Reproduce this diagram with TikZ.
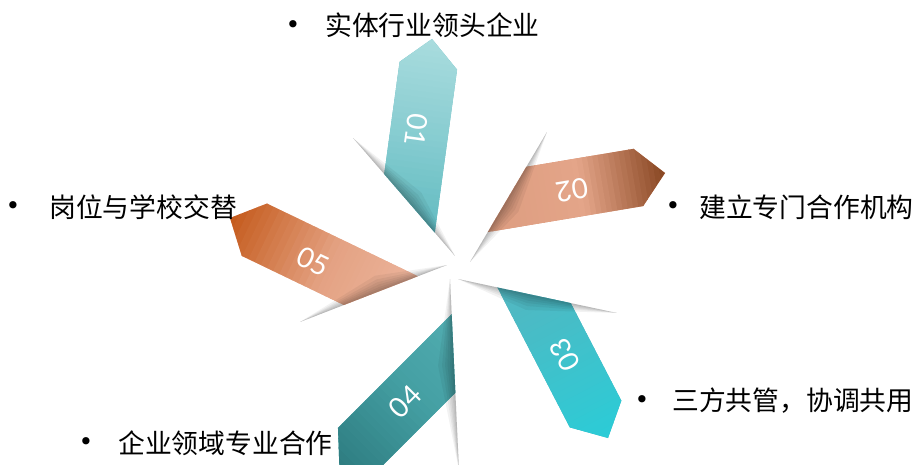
\documentclass[tikz,border=0pt]{standalone}
\usepackage{fontspec}
\usetikzlibrary{calc}
\newfontfamily\cjk{Noto Sans CJK SC}
\newfontfamily\numfont{Lato}
\newfontfamily\dejavu{DejaVu Sans}
\definecolor{aA}{HTML}{AADCDE}\definecolor{aB}{HTML}{88CDD1}\definecolor{aC}{HTML}{62BBC1}
\definecolor{bA}{HTML}{884622}\definecolor{bB}{HTML}{E4A589}\definecolor{bC}{HTML}{DD9D80}
\definecolor{cA}{HTML}{2BCCD7}\definecolor{cB}{HTML}{3EC2CC}\definecolor{cC}{HTML}{52B7C1}
\definecolor{dA}{HTML}{2E7C80}\definecolor{dB}{HTML}{449FA3}\definecolor{dC}{HTML}{56B1B5}
\definecolor{eA}{HTML}{C45A1B}\definecolor{eB}{HTML}{E4A283}\definecolor{eC}{HTML}{EBB39A}
% #1,#2 tip, #3 angle, #4 length, #5,#6 stops, #7-#9 colours
\newcommand\myribbon[9]{%
\begin{scope}[shift={(#1,#2)},rotate=#3]
  \clip (0,0) -- (27,29) -- (#4,29) -- (#4,-29) -- (27,-29) -- cycle;
  \fill[#9] (-2,-31) rectangle (#4+2,31);
  \foreach \k in {0,...,15}{%
    \pgfmathsetmacro\xa{#5*\k/16}%
    \pgfmathsetmacro\xb{#5*(\k+1)/16+0.7}%
    \pgfmathtruncatemacro\p{round(100*(\k+0.5)/16)}%
    \fill[#8!\p!#7] (\xa,-31) rectangle (\xb,31);}
  \foreach \k in {0,...,15}{%
    \pgfmathsetmacro\xa{#5+(#6-#5)*\k/16}%
    \pgfmathsetmacro\xb{#5+(#6-#5)*(\k+1)/16+0.7}%
    \pgfmathtruncatemacro\p{round(100*(\k+0.5)/16)}%
    \fill[#9!\p!#8] (\xa,-31) rectangle (\xb,31);}
\end{scope}}
\newcommand\halfclip[2]{%
  \coordinate (hpa) at ($(#1)!-4!(#2)$);
  \coordinate (hpb) at ($(#1)!5!(#2)$);
  \clip (hpa) -- (hpb) -- ($(hpb)!900pt!-90:(hpa)$) -- ($(hpa)!900pt!90:(hpb)$) -- cycle;}
\newcommand\foldshadow[2]{%
  \coordinate (sm) at ($(#1)!0.55!(#2)$);
  \foreach \w in {2pt,4pt,6.5pt,9pt,12pt,16pt}{%
    \fill[black,opacity=0.05] (#1) -- ($(sm)!\w!90:(#2)$) -- (#2) -- cycle;}}
\begin{document}
\begin{tikzpicture}[x=1pt,y=-1pt,
  lbl/.style={font=\cjk\fontsize{26.8}{30}\selectfont, inner sep=0pt, anchor=west, text=black},
  bul/.style={font=\dejavu\fontsize{25}{25}\selectfont, inner sep=0pt, text=black},
  numtxt/.style={font=\numfont\fontsize{28}{28}\selectfont, text=white, inner sep=0pt}]
\useasboundingbox (0,0) rectangle (918,465);
\fill[white] (0,0) rectangle (918,465);
% fold edges: outer / inner points
\coordinate (O1) at (353,138); \coordinate (I1) at (455,256);
\coordinate (O2) at (547,132); \coordinate (I2) at (470,262);
\coordinate (O3) at (617,313); \coordinate (I3) at (458,279);
\coordinate (O4) at (459,470); \coordinate (I4) at (450,279);
\coordinate (O5) at (300,322); \coordinate (I5) at (447,265);
% ribbons
\begin{scope}\halfclip{O1}{I1}\myribbon{432}{39}{-97.8}{240}{95}{190}{aA}{aB}{aC}\end{scope}
\begin{scope}\halfclip{O2}{I2}\myribbon{665}{173}{189.5}{215}{85}{180}{bA}{bB}{bC}\end{scope}
\begin{scope}\halfclip{O3}{I3}\myribbon{608}{438}{117.4}{205}{85}{175}{cA}{cB}{cC}\end{scope}
\begin{scope}\halfclip{O4}{I4}\myribbon{339.4}{467.6}{45}{245}{105}{215}{dA}{dB}{dC}\end{scope}
\begin{scope}\halfclip{O5}{I5}\myribbon{230}{218}{-25.7}{225}{110}{190}{eA}{eB}{eC}\end{scope}
% numbers
\node[numtxt, rotate=-97.8] (n1) at (416.7,130) {01};
\node[numtxt, rotate=189.5] (n2) at (571.7,190) {02};
\node[numtxt, rotate=117.4] (n3) at (565,355) {03};
\node[numtxt, rotate=45] (n4) at (405,401.7) {04};
\node[numtxt, rotate=-25.7] (n5) at (313.3,261.7) {05};
% fold shadows
\foldshadow{O1}{I1}
\foldshadow{O2}{I2}
\foldshadow{O3}{I3}
\foldshadow{O4}{I4}
\foldshadow{O5}{I5}
% labels
\node[bul] (b1) at (293,27) {•};
\node[lbl] (t1) at (325,25) {实体行业领头企业};
\node[bul] (b2) at (673,208) {•};
\node[lbl] (t2) at (699,207) {建立专门合作机构};
\node[bul] (b3) at (13,208) {•};
\node[lbl] (t3) at (49,207) {岗位与学校交替};
\node[bul] (b4) at (642,402) {•};
\node[lbl] (t4) at (672,401) {三方共管，协调共用};
\node[bul] (b5) at (86,444) {•};
\node[lbl] (t5) at (118,443) {企业领域专业合作};
\end{tikzpicture}
\end{document}
